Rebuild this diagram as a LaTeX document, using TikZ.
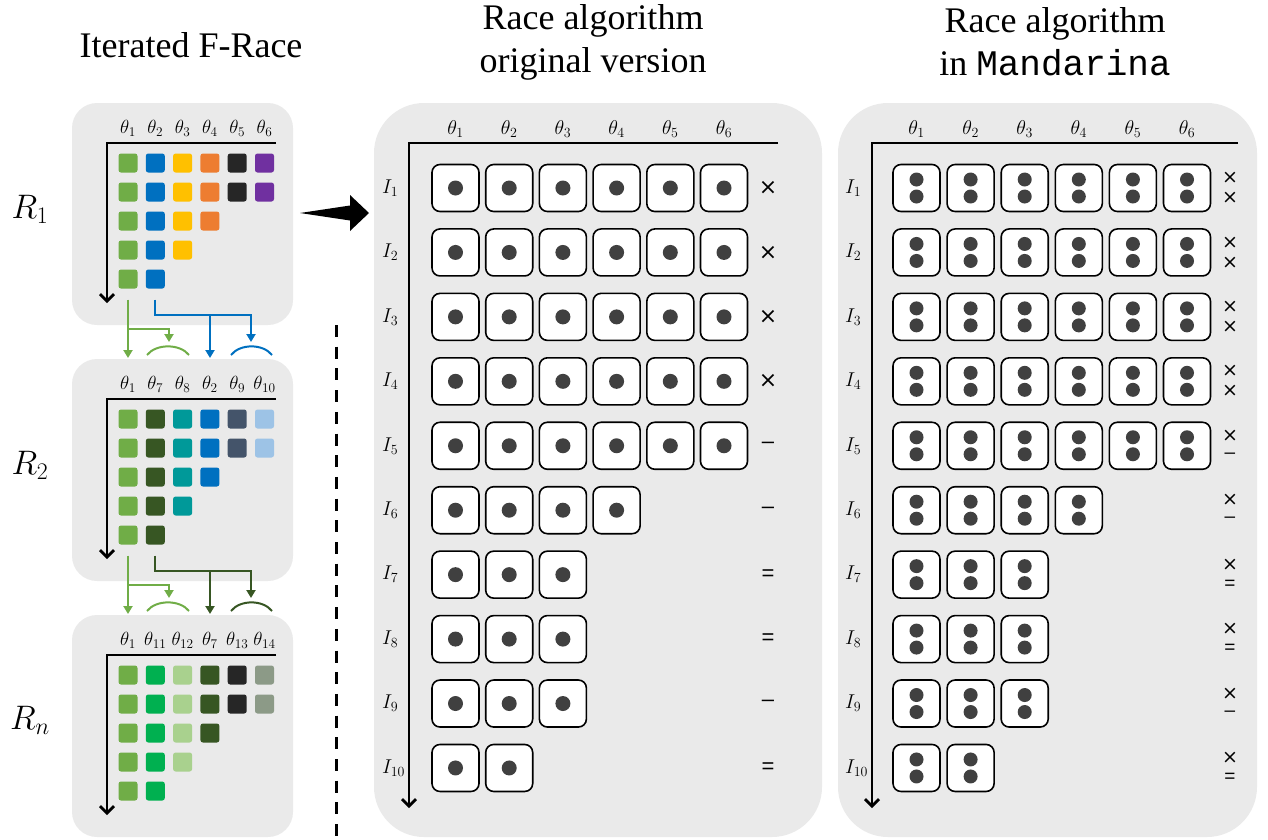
\RequirePackage{fix-cm}
\documentclass[tikz,border=0pt]{standalone}
\usepackage[no-math]{fontspec}
\setmainfont{Liberation Serif}
\newfontfamily\symfont{DejaVu Sans}
\newfontfamily\sansfont{Liberation Sans}
\newfontfamily\monofont{Liberation Mono}
\usetikzlibrary{arrows.meta,calc}
\newcommand\sX{{\symfont ×}}
\newcommand\sD{{\sansfont –}}
\newcommand\sE{{\sansfont =}}
\definecolor{panelbg}{RGB}{234,234,234}
\definecolor{cgreen}{HTML}{70AD47}
\definecolor{cblue}{HTML}{0070C0}
\definecolor{cyellow}{HTML}{FFC000}
\definecolor{corange}{HTML}{ED7D31}
\definecolor{cblack}{HTML}{262626}
\definecolor{cpurple}{HTML}{7030A0}
\definecolor{cdkgreen}{HTML}{375623}
\definecolor{cteal}{HTML}{009999}
\definecolor{cslate}{HTML}{44546A}
\definecolor{cltblue}{HTML}{9DC3E6}
\definecolor{cbrgreen}{HTML}{00B050}
\definecolor{cltgreen}{HTML}{A9D18E}
\definecolor{cgrgreen}{HTML}{8C9A87}
\definecolor{dotc}{HTML}{404040}

\newcommand\leftpanel[4]{%
  \fill[panel] (72,{103+#2}) rectangle (293,{325+#2});
  \foreach \c/\n [count=\j from 0] in {#3} {
    \foreach \i in {1,...,\n} {
      \node[sq=\c] (#1s\i\j) at ({128+27.3*\j},{163+29*(\i-1)+#2}) {};
    }
  }
  \foreach \t [count=\j from 0] in {#4}
    \node[lab, font=\fontsize{19}{21}\selectfont] (#1t\j) at ({128+27.3*\j},{128+#2}) {$\theta_{\t}$};
  \draw[axis] (276,{143+#2}) -- (107,{143+#2}) -- (107,{303+#2});
}

\newcommand\links[5]{% #1 from panel, #2 dy, #3 colour A, #4 colour B, #5 id
  \coordinate (#5a) at (128,{358+#2});
  \coordinate (#5b) at (169,{342+#2});
  \coordinate (#5c) at (210,{358+#2});
  \coordinate (#5d) at (251,{342+#2});
  \coordinate (#5k) at (210,{315+#2});
  \draw[conn,#3] ([yshift=-11pt]#1s50.south) -- (#5a);
  \draw[conn,#3] ([yshift=-40pt]#1s50.south) -| (#5b);
  \draw[conn,#4] ([yshift=-11pt]#1s51.south) -- ++(0,15) -| (#5d);
  \draw[conn,#4] (#5k) -- (#5c);
  \draw[arcl,#3] (147,{355+#2}) .. controls (156,{343.5+#2}) and (180,{343.5+#2}) .. (189,{355+#2});
  \draw[arcl,#4] (231,{355+#2}) .. controls (240,{343.5+#2}) and (263,{343.5+#2}) .. (272,{355+#2});
}

\begin{document}
\begin{tikzpicture}[x=1pt,y=-1pt,
  panel/.style={fill=panelbg, rounded corners=#1}, panel/.default=25pt,
  sq/.style={minimum size=19pt, inner sep=0pt, rounded corners=2.5pt, fill=#1},
  lab/.style={font=\fontsize{20}{22}\selectfont, inner sep=0pt},
  title/.style={font=\fontsize{36}{43}\selectfont, align=center, inner sep=0pt},
  rlab/.style={font=\fontsize{34}{38}\selectfont, inner sep=0pt},
  axis/.style={line width=2.8pt, line join=miter, -{Straight Barb[length=7pt,width=14pt]}},
  conn/.style={line width=2pt, -{Triangle[length=8pt,width=9pt]}},
  arcl/.style={line width=2pt},
  rbox/.style={draw=black, line width=1.6pt, fill=white, rounded corners=8pt, minimum size=47pt, inner sep=0pt},
  sym/.style={font=\fontsize{22}{23}\selectfont, inner sep=0pt},
  symsm/.style={font=\fontsize{19}{20}\selectfont, inner sep=0pt},
]
\useasboundingbox (0,0) rectangle (1268,839);

% titles
\node[title] (t1) at (191,45) {Iterated F-Race};
\node[title] (t2) at (593,42) {Race algorithm\\original version};
\node[title] (t3) at (1055,42) {Race algorithm\\in {\monofont Mandarina}};

% round labels
\node[rlab] (r1) at (30,209) {$R_1$};
\node[rlab] (r2) at (30,465) {$R_2$};
\node[rlab] (rn) at (30,720) {$R_n$};

% left panels
\leftpanel{pA}{0}{cgreen/5,cblue/5,cyellow/4,corange/3,cblack/2,cpurple/2}{1,2,3,4,5,6}
\leftpanel{pB}{256}{cgreen/5,cdkgreen/5,cteal/4,cblue/3,cslate/2,cltblue/2}{1,7,8,2,9,10}
\leftpanel{pC}{512}{cgreen/5,cbrgreen/5,cltgreen/4,cdkgreen/3,cblack/2,cgrgreen/2}{1,11,12,7,13,14}

\links{pA}{0}{cgreen}{cblue}{lA}
\links{pB}{256}{cgreen}{cdkgreen}{lB}

% big arrow
\fill (300,213) -- (350,205.5) -- (350,195) -- (369,213) -- (350,231) -- (350,220.5) -- cycle;

% dashed separator
\draw[line width=3pt, dash pattern=on 12pt off 9.7pt] (336,325) -- (336,839);

% middle panel
\fill[panel=50pt] (374,103) rectangle (822,837);
\foreach \t [count=\j] in {1,...,6}
  \node[lab] (mt\j) at ({455.5+53.7*(\j-1)},129) {$\theta_{\t}$};
\draw[axis] (778,143) -- (409,143) -- (409,808);
\foreach \n/\s [count=\k] in {6/\sX,6/\sX,6/\sX,6/\sX,6/\sD,4/\sD,3/\sE,3/\sE,3/\sD,2/\sE} {
  \node[lab, anchor=west] (mI\k) at (382,{188+64.44*(\k-1)}) {$I_{\k}$};
  \foreach \j in {1,...,\n} {
    \node[rbox] (m\k-\j) at ({455.5+53.7*(\j-1)},{188+64.44*(\k-1)}) {};
    \fill[dotc] (m\k-\j.center) circle (7.5pt);
  }
  \node[sym] (ms\k) at (768,{188+64.44*(\k-1)}) {\s};
}

% right panel
\fill[panel=50pt] (838,103) rectangle (1257,837);
\foreach \t [count=\j] in {1,...,6}
  \node[lab] (rt\j) at ({916.5+54.1*(\j-1)},129) {$\theta_{\t}$};
\draw[axis] (1238,143) -- (872,143) -- (872,808);
\foreach \n/\s [count=\k] in {6/\sX,6/\sX,6/\sX,6/\sX,6/\sD,4/\sD,3/\sE,3/\sE,3/\sD,2/\sE} {
  \node[lab, anchor=west] (rI\k) at (845,{188+64.44*(\k-1)}) {$I_{\k}$};
  \foreach \j in {1,...,\n} {
    \node[rbox] (r\k-\j) at ({916.5+54.1*(\j-1)},{188+64.44*(\k-1)}) {};
    \fill[dotc] ([yshift=8.5pt]r\k-\j.center) circle (7pt);
    \fill[dotc] ([yshift=-8.5pt]r\k-\j.center) circle (7pt);
  }
  \node[symsm] (rsa\k) at (1230,{178+64.44*(\k-1)}) {\sX};
  \node[symsm] (rsb\k) at (1230,{198+64.44*(\k-1)}) {\s};
}
\end{tikzpicture}
\end{document}
